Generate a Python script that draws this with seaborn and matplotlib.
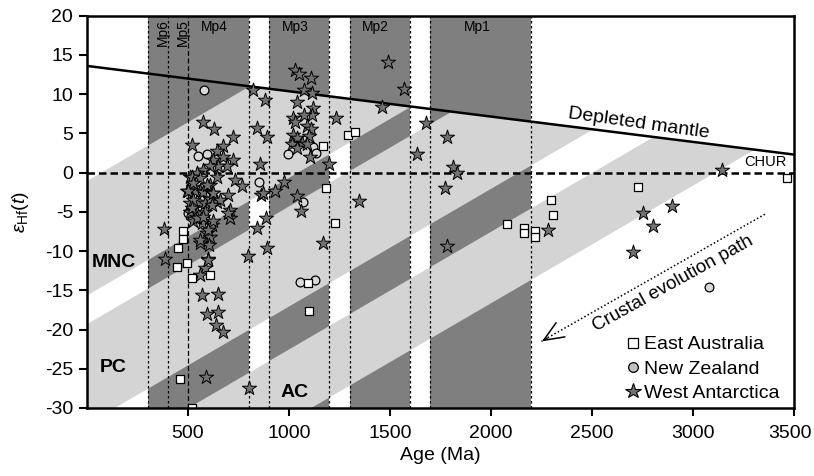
import numpy as np
import pandas as pd
import matplotlib
matplotlib.use("Agg")
import matplotlib.pyplot as plt
import matplotlib.transforms as mtransforms
import seaborn as sns
from matplotlib.lines import Line2D

# ---------------- data ----------------
ea_age = [1168, 1292, 1327, 1183, 1228, 1094, 1099, 2079, 2163, 2163, 2218, 2218,
          2297, 2307, 2728, 3465, 475, 475, 451, 495, 445, 518, 609, 460, 520]
ea_eps = [3.4, 4.8, 5.2, -2.0, -6.4, -14.1, -17.7, -6.6, -7.0, -7.7, -7.5, -8.2,
          -3.5, -5.4, -1.8, -0.7, -7.4, -8.4, -9.6, -11.5, -12.0, -13.4, -13.0, -26.3, -30.0]

nz_age = [579, 550, 594, 995, 1119, 1134, 851, 1069, 1054, 1129, 3079, 501, 559]
nz_eps = [10.5, 2.1, 2.4, 2.4, 3.3, 2.5, -1.2, -3.7, -13.9, -13.7, -14.6, -5.2, -4.9]

wa_age = [573, 629, 518, 672, 724, 820, 881, 840, 889,
          1030, 1051, 1107, 1072, 1113, 1041, 1022, 1030, 1120, 1112, 1072, 1087, 1107,
          1101, 1022, 1041, 1063, 1087, 1013, 1038, 1104, 1233,
          1492, 1569, 1462, 1678, 1781, 1632, 3142,
          856, 975, 1038, 1057, 931, 862, 885, 843, 889, 799, 383, 386, 724, 733, 766,
          700, 708, 708, 597, 584, 559, 568, 650, 593, 650, 639, 675, 589, 802,
          1200, 1814, 1833, 1772, 1781, 1170, 1348, 2284, 2754, 2800, 2898, 2705,
          642, 625, 675, 691, 650, 609, 576, 543, 510, 559, 642, 609, 526, 494, 559,
          535, 576, 617, 510, 553, 584, 642, 609, 510, 543, 584, 526, 568, 617, 592,
          609, 559, 606, 601, 873, 518, 526, 501, 526, 518, 543, 592, 625, 658, 617,
          576, 625, 601, 559, 700]
wa_eps = [6.5, 5.5, 3.5, 3.4, 4.6, 10.5, 9.3, 5.7, 4.6,
          13.1, 12.6, 12.1, 10.5, 10.2, 9.0, 6.9, 6.5, 8.2, 7.4, 7.4, 5.9, 5.5,
          4.7, 4.8, 4.4, 3.8, 3.7, 3.7, 3.1, 2.0, 6.9,
          14.1, 10.6, 8.3, 6.3, 4.6, 2.4, 0.3,
          1.1, -1.2, -3.0, -4.9, -2.3, -2.8, -5.8, -7.1, -9.6, -10.6, -7.2, -11.0, 1.6, -1.0, -1.7,
          -2.8, -4.8, -5.8, -11.0, -12.2, -13.0, -15.6, -15.5, -18.0, -17.8, -19.4, -20.3, -26.1, -27.5,
          1.1, 0.7, -0.1, -1.9, -9.3, -9.0, -3.6, -7.3, -5.2, -6.8, -4.3, -10.1,
          2.7, 1.6, 2.0, 0.8, 0.8, 0.8, 0.3, -0.1, -0.5, -0.7, -0.5, -1.6, -1.8, -2.4, -2.4,
          -2.4, -2.5, -2.6, -3.9, -3.7, -3.9, -3.8, -3.3, -5.0, -5.2, -5.0, -6.2, -6.4, -6.7, -7.7,
          -8.2, -9.0, -9.2, -11.1, -2.6, -0.5, -1.35, -2.4, -3.5, -4.5, -5.8, -1.6, -2.6, -3.5, -4.1,
          -5.6, -6.2, -7.3, -8.6, -5.2]

# magmatic pulses (Ma)
mp_names = ["Mp6", "Mp5", "Mp4", "Mp3", "Mp2", "Mp1"]
mp_start = [300, 400, 500, 900, 1300, 1700]
mp_end = [400, 500, 800, 1200, 1600, 2200]

# depleted mantle and crustal evolution stripes (model ages, Ma)
dm_age = [0, 3500]
dm_eps = [13.6, 2.3]
stripe_young = [800, 1800, 2800]
stripe_old = [1600, 2500, 3300]
crust_slope = 0.015  # epsilon units per Ma

x_ticks = [500, 1000, 1500, 2000, 2500, 3000, 3500]
y_ticks = [-30, -25, -20, -15, -10, -5, 0, 5, 10, 15, 20]

# ---------------- style ----------------
sns.set_theme(style="white")
plt.rcParams["font.family"] = ["Liberation Sans", "DejaVu Sans"]
plt.rcParams["axes.unicode_minus"] = False
plt.rcParams["mathtext.fontset"] = "custom"
plt.rcParams["mathtext.rm"] = "Liberation Sans"
plt.rcParams["mathtext.it"] = "Liberation Sans:italic"
plt.rcParams["text.color"] = "black"
plt.rcParams["axes.labelcolor"] = "black"
plt.rcParams["xtick.color"] = "black"
plt.rcParams["ytick.color"] = "black"

DARK = "#7f7f7f"
LIGHT = "#d4d4d4"
STAR = "#727272"
CIRC = "#d9d9d9"

fig = plt.figure(figsize=(8.14, 4.76), dpi=100)
ax = fig.add_axes([87 / 814, 1 - 408 / 476, (794 - 87) / 814, (408 - 15.7) / 476])

# dark bands for magmatic pulses
band_lo = [300, 900, 1300, 1700]
band_hi = [800, 1200, 1600, 2200]
for a, b in zip(band_lo, band_hi):
    ax.axvspan(a, b, color=DARK, lw=0, zorder=0)


def dm(x):
    k = (dm_eps[1] - dm_eps[0]) / (dm_age[1] - dm_age[0])
    return dm_eps[0] + k * (np.asarray(x, dtype=float) - dm_age[0])


def evo(T, x):
    return dm(T) + crust_slope * (x - T)


# light crustal evolution stripes
xx = np.linspace(-300, 3700, 4001)
for t1, t2 in zip(stripe_young, stripe_old):
    upper = np.minimum(evo(t1, xx), dm(xx))
    lower = evo(t2, xx)
    ax.fill_between(xx, lower, upper, where=upper >= lower, interpolate=True,
                    color=LIGHT, lw=0, zorder=1)

# vertical dotted boundaries
for v in sorted(set(mp_start + mp_end)):
    ls = (0, (4, 2)) if v == 500 else (0, (2, 2))
    ax.axvline(v, color="black", lw=0.9, ls=ls, zorder=2)

# depleted mantle and CHUR
ax.plot(dm_age, dm_eps, color="black", lw=1.8, zorder=3)
ax.axhline(0, color="black", lw=1.8, ls=(0, (3, 1.6)), zorder=3)

# data
df_ea = pd.DataFrame({"age": ea_age, "eps": ea_eps})
df_nz = pd.DataFrame({"age": nz_age, "eps": nz_eps})
df_wa = pd.DataFrame({"age": wa_age, "eps": wa_eps})
sns.scatterplot(data=df_nz, x="age", y="eps", marker="o", s=40, color=CIRC,
                edgecolor="black", linewidth=0.9, ax=ax, zorder=4, legend=False)
sns.scatterplot(data=df_wa, x="age", y="eps", marker="*", s=115, color=STAR,
                edgecolor="black", linewidth=0.7, ax=ax, zorder=5, legend=False)
sns.scatterplot(data=df_ea, x="age", y="eps", marker="s", s=38, color="white",
                edgecolor="black", linewidth=0.9, ax=ax, zorder=6, legend=False)

# labels on the plot
for name, a, b in zip(mp_names, mp_start, mp_end):
    if name in ("Mp6", "Mp5"):
        ax.text((a + b) / 2 + 25, 19.6, name, rotation=90, ha="center", va="top",
                fontsize=10, zorder=7)
    else:
        ax.text((a + b) / 2 - 20, 18.1, name, ha="center", va="baseline",
                fontsize=10, zorder=7)

ax.text(2730, 6.2, "Depleted mantle", rotation=-8, rotation_mode="anchor",
        ha="center", va="center", fontsize=14, zorder=7)
ax.text(3360, 0.5, "CHUR", ha="center", va="bottom", fontsize=10.5, zorder=7)
ax.text(135, -11.5, "MNC", ha="center", va="center", fontsize=14, fontweight="bold", zorder=7)
ax.text(130, -24.8, "PC", ha="center", va="center", fontsize=14, fontweight="bold", zorder=7)
ax.text(1030, -28.0, "AC", ha="center", va="center", fontsize=14, fontweight="bold", zorder=7)

# crustal evolution arrow
ax.plot([3356, 2250], [-5.3, -21.5], color="black", lw=1.1, ls=(0, (1, 1.5)), zorder=7)
ax.annotate("", xy=(2240, -21.7), xytext=(2290, -20.9),
            arrowprops=dict(arrowstyle="->,head_length=1.2,head_width=0.5",
                            lw=1.1, color="black"), zorder=7)
ax.text(2900, -14.1, "Crustal evolution path", rotation=29, rotation_mode="anchor",
        ha="center", va="center", fontsize=13.5, zorder=7)

# axes
ax.set_xlim(0, 3500)
ax.set_ylim(-30, 20)
ax.set_xticks(x_ticks)
ax.set_yticks(y_ticks)
ax.tick_params(axis="both", direction="out", length=6, width=1.5, labelsize=14,
               bottom=True, left=True, colors="black", pad=4)
ax.tick_params(axis="x", pad=6)
for sp in ax.spines.values():
    sp.set_color("black")
    sp.set_linewidth(1.8)
    sp.set_zorder(10)
ax.set_xlabel("Age (Ma)", fontsize=14, labelpad=4)
ax.set_ylabel(r"$\varepsilon_{\mathrm{Hf}}(t)$", fontsize=14, labelpad=10)

# keep the last x tick label inside the canvas
last = ax.get_xticklabels()[-1]
last.set_transform(last.get_transform() +
                   mtransforms.ScaledTranslation(-3 / 72, 0, fig.dpi_scale_trans))

handles = [
    Line2D([], [], ls="", marker="s", ms=7, mfc="white", mec="black", mew=0.9),
    Line2D([], [], ls="", marker="o", ms=7, mfc="#c0c0c0", mec="black", mew=0.9),
    Line2D([], [], ls="", marker="*", ms=11.5, mfc=STAR, mec="black", mew=0.8),
]
leg = ax.legend(handles, ["East Australia", "New Zealand", "West Antarctica"],
                loc="lower right", frameon=False, fontsize=14, handletextpad=0.1,
                labelspacing=0.35, handlelength=1.0, borderaxespad=0.0,
                bbox_to_anchor=(0.991, -0.005))
leg.set_zorder(8)

fig.savefig("out.png", dpi=100)
